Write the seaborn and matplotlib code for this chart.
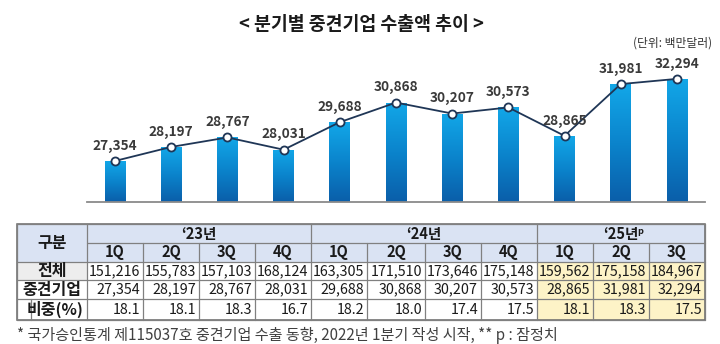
import numpy as np
import pandas as pd
import matplotlib
matplotlib.use("Agg")
import matplotlib.pyplot as plt
import seaborn as sns
from matplotlib.colors import LinearSegmentedColormap
from matplotlib.patches import Rectangle

# ---- data -------------------------------------------------------------
quarters = ["23-1Q", "23-2Q", "23-3Q", "23-4Q",
            "24-1Q", "24-2Q", "24-3Q", "24-4Q",
            "25-1Q", "25-2Q", "25-3Q"]
quarter_labels = ["1Q", "2Q", "3Q", "4Q", "1Q", "2Q", "3Q", "4Q", "1Q", "2Q", "3Q"]
year_labels = ["‘23년", "‘24년", "‘25년"]
year_spans = [4, 4, 3]
total_exports = [151216, 155783, 157103, 168124, 163305, 171510,
                 173646, 175148, 159562, 175158, 184967]
midsize_exports = [27354, 28197, 28767, 28031, 29688, 30868,
                   30207, 30573, 28865, 31981, 32294]
share_pct = [18.1, 18.1, 18.3, 16.7, 18.2, 18.0, 17.4, 17.5, 18.1, 18.3, 17.5]
row_labels = ["전체", "중견기업", "비중(%)"]

title = "< 분기별 중견기업 수출액 추이 >"
unit_note = "(단위: 백만달러)"
footnote = "* 국가승인통계 제115037호 중견기업 수출 동향, 2022년 1분기 작성 시작, ** p : 잠정치"

# ---- setup --------------------------------------------------------------
sns.set_theme(style="white")
plt.rcParams["font.family"] = ["Noto Sans CJK KR", "DejaVu Sans"]

W, H = 720, 344
fig = plt.figure(figsize=(W / 100, H / 100), dpi=100)
fig.patch.set_facecolor("white")


def px_axes(left, top, right, bottom, **kw):
    return fig.add_axes([left / W, 1 - bottom / H, (right - left) / W, (bottom - top) / H], **kw)


# ---- bar + line chart ---------------------------------------------------
ax = px_axes(87, 60, 705, 201.7)
df = pd.DataFrame({"quarter": quarters, "value": midsize_exports})
sns.barplot(data=df, x="quarter", y="value", ax=ax, width=0.37,
            color="#0a86d0", saturation=1, zorder=2)
y_lo, y_hi = 24900, 33430
ax.set_ylim(y_lo, y_hi)
ax.set_xlim(-0.5, len(quarters) - 0.5)

# vertical gradient fill for each bar
bar_cmap = LinearSegmentedColormap.from_list(
    "barfill", ["#0a5ea9", "#0b84cc", "#12a7e8"])
grad = np.linspace(0, 1, 256).reshape(-1, 1)
for p in list(ax.patches):
    x0, w, top = p.get_x(), p.get_width(), p.get_y() + p.get_height()
    im = ax.imshow(grad, cmap=bar_cmap, extent=(x0, x0 + w, y_lo, top),
                   origin="lower", aspect="auto", zorder=2)
    im.set_clip_path(p)
    p.set_facecolor("none")
    p.set_edgecolor("none")
ax.set_ylim(y_lo, y_hi)
ax.set_xlim(-0.5, len(quarters) - 0.5)

xs = np.arange(len(midsize_exports))
ax.plot(xs, midsize_exports, color="#1f3656", lw=1.3, marker="o", ms=5.8,
        mfc="white", mec="#1f3656", mew=1.3, zorder=4)
for x, v in zip(xs, midsize_exports):
    ax.annotate(f"{v:,}", (x, v), xytext=(0, 6), textcoords="offset points",
                ha="center", va="bottom", fontsize=9.8, fontweight="bold",
                color="#3a3a3a", zorder=5)

ax.set_xticks([])
ax.set_yticks([])
ax.set_xlabel("")
ax.set_ylabel("")
for side in ["top", "left", "right"]:
    ax.spines[side].set_visible(False)
ax.spines["bottom"].set_color("#8a8a8a")
ax.spines["bottom"].set_linewidth(1.3)
ax.patch.set_alpha(0)

# ---- overlay in pixel coordinates for title and table -------------------
tax = fig.add_axes([0, 0, 1, 1], zorder=-1)
tax.set_xlim(0, W)
tax.set_ylim(H, 0)
tax.axis("off")

tax.text(361, 25, title, ha="center", va="center", fontsize=13.2,
         fontweight="bold", color="#1a1a1a")
tax.text(712, 43, unit_note, ha="right", va="center", fontsize=8.5, color="#333333")

col_edges = [17, 87, 143, 199, 255, 311, 367, 425, 481, 537, 593, 649, 705]
row_edges = [224, 243, 262, 280, 299, 320]
left, right = col_edges[0], col_edges[-1]
top, bottom = row_edges[0], row_edges[-1]

# cell backgrounds
tax.add_patch(Rectangle((left, top), right - left, row_edges[2] - top,
                        facecolor="#dae3f3", edgecolor="none"))
tax.add_patch(Rectangle((left, row_edges[2]), col_edges[1] - left,
                        row_edges[3] - row_edges[2], facecolor="#ededed", edgecolor="none"))
tax.add_patch(Rectangle((col_edges[9], row_edges[2]), right - col_edges[9],
                        bottom - row_edges[2], facecolor="#fdf3c7", edgecolor="none"))

grid_c, grid_lw = "#808080", 0.9
for y in row_edges:
    x_start = col_edges[1] if y == row_edges[1] else left
    tax.plot([x_start, right], [y, y], color=grid_c, lw=grid_lw)
year_bounds = np.cumsum([0] + year_spans) + 1
for i, x in enumerate(col_edges):
    y_start = top if (i == 0 or i in year_bounds) else row_edges[1]
    tax.plot([x, x], [y_start, bottom], color=grid_c, lw=grid_lw)
tax.plot([31, 31], [row_edges[4], bottom], color=grid_c, lw=grid_lw)
tax.add_patch(Rectangle((left, top), right - left, bottom - top,
                        facecolor="none", edgecolor="#6a6a6a", lw=1.1))

txt_c = "#1a1a1a"
tax.text((left + col_edges[1]) / 2, (top + row_edges[2]) / 2, "구분", ha="center",
         va="center", fontsize=11.5, fontweight="bold", color=txt_c)
year_texts = []
for k, label in enumerate(year_labels):
    c0, c1 = year_bounds[k], year_bounds[k + 1]
    cx = (col_edges[c0] + col_edges[c1]) / 2
    year_texts.append(tax.text(cx, (row_edges[0] + row_edges[1]) / 2, label,
                               ha="center", va="center", fontsize=10.5,
                               fontweight="bold", color=txt_c))
for j, q in enumerate(quarter_labels):
    cx = (col_edges[j + 1] + col_edges[j + 2]) / 2
    tax.text(cx, (row_edges[1] + row_edges[2]) / 2, q, ha="center", va="center",
             fontsize=10.5, fontweight="bold", color=txt_c)

rows = [[f"{v:,}" for v in total_exports],
        [f"{v:,}" for v in midsize_exports],
        [f"{v:.1f}" for v in share_pct]]
for r, (label, values) in enumerate(zip(row_labels, rows)):
    cy = (row_edges[r + 2] + row_edges[r + 3]) / 2
    tax.text((left + col_edges[1]) / 2 + (3 if r == 2 else 0), cy, label,
             ha="center", va="center", fontsize=11.5, fontweight="bold", color=txt_c)
    for j, s in enumerate(values):
        tax.text(col_edges[j + 2] - 3, cy, s, ha="right", va="center",
                 fontsize=10.3, color=txt_c)

# provisional marker after the last year label
fig.canvas.draw()
bb = year_texts[-1].get_window_extent()
tax.text(bb.x1 - 1, H - bb.y1 + 1.5, "p", ha="left", va="top", fontsize=6.5,
         fontweight="bold", color=txt_c)

tax.text(17, 335, footnote, ha="left", va="center", fontsize=10.9, color="#404040")

fig.savefig("out.png", dpi=100)
